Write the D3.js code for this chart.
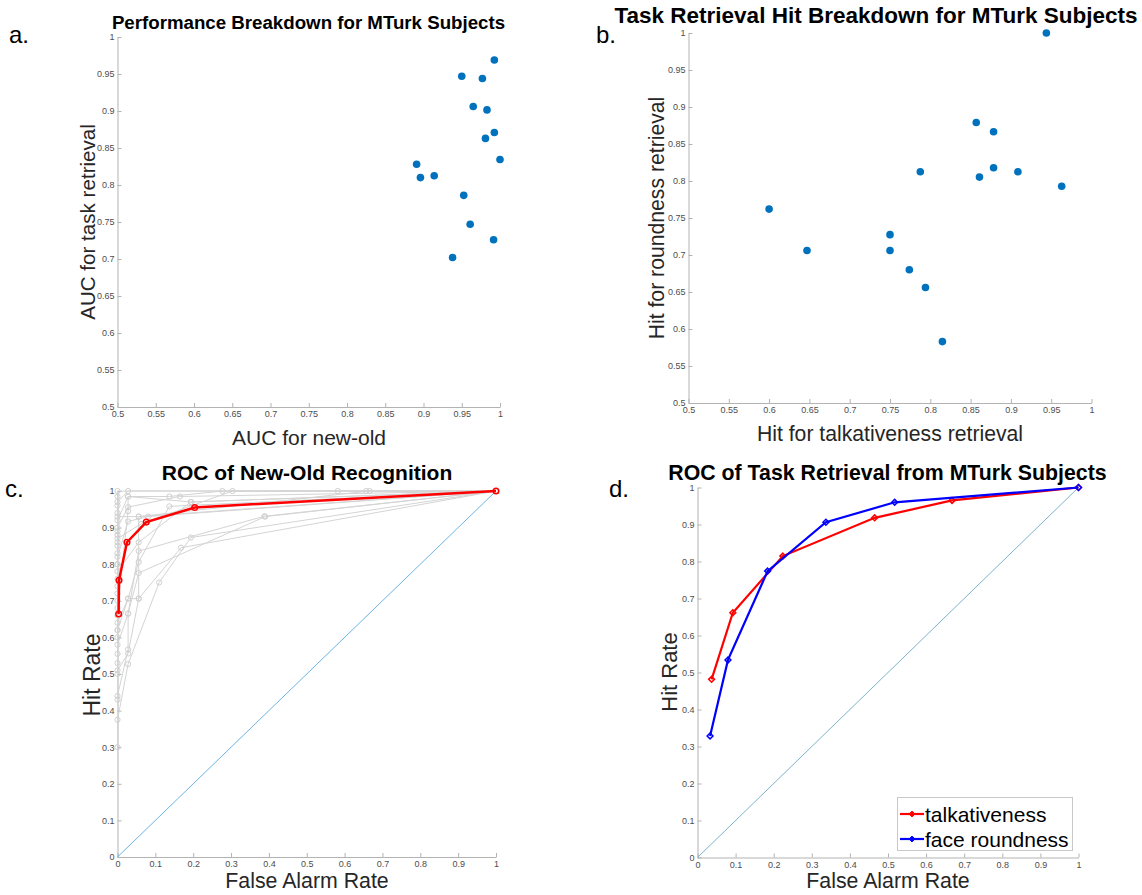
<!DOCTYPE html>
<html>
<head>
<meta charset="utf-8">
<script src="https://cdn.jsdelivr.net/npm/d3@7"></script>
<style>
  body { margin: 0; background: #fff; }
  svg { font-family: "Liberation Sans", Arial, sans-serif; }
  .tick text { fill: #4d4d4d; font-size: 9px; }
  .tick line, .domain { stroke: #b3b3b3; }
</style>
</head>
<body>
<div id="chart"></div>
<script>
// ---- data ----
// a. AUC per subject
var aucNewOld = [0.9926, 0.950, 0.977, 0.965, 0.983, 0.9926, 0.981, 1.000, 0.891, 0.896, 0.914, 0.9526, 0.961, 0.9916, 0.938];
var aucTask   = [0.969, 0.947, 0.944, 0.906, 0.9015, 0.871, 0.863, 0.8345, 0.828, 0.810, 0.8125, 0.786, 0.747, 0.726, 0.702];

// b. hit rate per subject
var hitTalk  = [0.944, 0.857, 0.8785, 0.7876, 0.8785, 0.861, 0.9087, 0.963, 0.600, 0.647, 0.750, 0.750, 0.774, 0.794, 0.815];
var hitRound = [1.000, 0.879, 0.8665, 0.8125, 0.818, 0.8053, 0.8125, 0.793, 0.762, 0.706, 0.7275, 0.706, 0.680, 0.656, 0.583];

// c. ROC new-old, per subject (gray) and mean (red)
var subjectRoc = [
  [[0, 0.30], [0, 0.375], [0.028, 0.527], [0.11, 0.75], [0.194, 0.873], [1, 1]],
  [[0, 0.43], [0, 0.51], [0.028, 0.556], [0.056, 0.706], [0.168, 0.845], [1, 1]],
  [[0, 0.44], [0.028, 0.567], [0.028, 0.665], [0.056, 0.776], [0.39, 0.93], [1, 1]],
  [[0, 0.555], [0, 0.62], [0.028, 0.706], [0.056, 0.806], [0.137, 0.958], [1, 1]],
  [[0, 0.53], [0, 0.58], [0.028, 0.665], [0.056, 0.836], [0.388, 0.931], [1, 1]],
  [[0, 0.60], [0, 0.70], [0, 0.78], [0.056, 0.86], [0.194, 0.97], [1, 1]],
  [[0, 0.66], [0, 0.74], [0, 0.82], [0.028, 0.917], [0.081, 0.93], [1, 1]],
  [[0, 0.72], [0, 0.80], [0, 0.87], [0.062, 0.91], [0.304, 1.0], [1, 1]],
  [[0, 0.76], [0, 0.85], [0, 0.90], [0.028, 0.956], [0.165, 0.985], [1, 1]],
  [[0, 0.80], [0, 0.88], [0, 0.93], [0.056, 0.93], [0.666, 1.0], [1, 1]],
  [[0, 0.83], [0, 0.92], [0.028, 0.985], [0.137, 0.985], [0.277, 1.0], [1, 1]],
  [[0, 0.86], [0, 0.94], [0, 0.97], [0.028, 1.0], [0.582, 1.0], [1, 1]],
  [[0, 0.89], [0, 0.96], [0, 0.985], [0, 1.0], [0.657, 1.0], [1, 1]],
  [[0, 0.62], [0, 0.68], [0.028, 0.945], [0.028, 0.985], [0.194, 0.97], [1, 1]],
  [[0, 0.50], [0, 0.64], [0.028, 0.706], [0.056, 0.706], [0.056, 0.93], [1, 1]]
];
var meanFA  = [0.003, 0.004, 0.025, 0.076, 0.204, 1];
var meanHit = [0.664, 0.756, 0.860, 0.915, 0.955, 1];

// d. ROC task retrieval
var talkFA   = [0.037, 0.0927, 0.224, 0.465, 0.668, 1];
var talkHit  = [0.4815, 0.6616, 0.8146, 0.918, 0.965, 1];
var roundFA  = [0.033, 0.080, 0.184, 0.337, 0.5175, 1];
var roundHit = [0.3285, 0.534, 0.774, 0.906, 0.960, 1];

// ticks
var ticksHalf = [0.5, 0.55, 0.6, 0.65, 0.7, 0.75, 0.8, 0.85, 0.9, 0.95, 1];
var ticksHalfLabels = ['0.5', '0.55', '0.6', '0.65', '0.7', '0.75', '0.8', '0.85', '0.9', '0.95', '1'];
var ticksUnit = [0, 0.1, 0.2, 0.3, 0.4, 0.5, 0.6, 0.7, 0.8, 0.9, 1];
var ticksUnitLabels = ['0', '0.1', '0.2', '0.3', '0.4', '0.5', '0.6', '0.7', '0.8', '0.9', '1'];

// ---- drawing ----
var svg = d3.select('#chart')
  .append('svg')
  .attr('width', 1142)
  .attr('height', 895);

function makePanel(box, ticks, labels) {
  var x = d3.scaleLinear().domain([ticks[0], ticks[ticks.length - 1]]).range([box.x0, box.x1]);
  var y = d3.scaleLinear().domain([ticks[0], ticks[ticks.length - 1]]).range([box.y1, box.y0]);

  svg.append('g')
    .attr('transform', 'translate(0,' + box.y1 + ')')
    .call(d3.axisBottom(x).tickValues(ticks).tickFormat(function(d, i) { return labels[i]; })
      .tickSizeInner(-4).tickSizeOuter(0).tickPadding(4));

  svg.append('g')
    .attr('transform', 'translate(' + box.x0 + ',0)')
    .call(d3.axisLeft(y).tickValues(ticks).tickFormat(function(d, i) { return labels[i]; })
      .tickSizeInner(-4).tickSizeOuter(0).tickPadding(3));

  svg.selectAll('.domain').attr('stroke', '#b3b3b3');
  return {x: x, y: y};
}

function addText(txt, x, y, size, opts) {
  opts = opts || {};
  var t = svg.append('text')
    .attr('x', x).attr('y', y)
    .attr('font-size', size)
    .attr('text-anchor', opts.anchor || 'middle')
    .attr('font-weight', opts.bold ? 'bold' : 'normal')
    .attr('fill', opts.fill || '#000')
    .text(txt);
  if (opts.rotate) t.attr('transform', 'rotate(-90,' + x + ',' + y + ')');
  return t;
}

// panel a
var pa = makePanel({x0: 117.5, x1: 500, y0: 37, y1: 407}, ticksHalf, ticksHalfLabels);
svg.append('g').selectAll('circle')
  .data(aucNewOld)
  .enter()
  .append('circle')
  .attr('cx', function(d) { return pa.x(d); })
  .attr('cy', function(d, i) { return pa.y(aucTask[i]); })
  .attr('r', 3.8)
  .attr('fill', '#0072BD');
addText('Performance Breakdown for MTurk Subjects', 308.5, 29, 18.7, {bold: true});
addText('AUC for new-old', 309, 445, 21, {fill: '#262626'});
addText('AUC for task retrieval', 95, 222, 20.6, {rotate: true, fill: '#262626'});
addText('a.', 9, 43, 24, {anchor: 'start'});

// panel b
var pb = makePanel({x0: 688.5, x1: 1091.5, y0: 33, y1: 403}, ticksHalf, ticksHalfLabels);
svg.append('g').selectAll('circle')
  .data(hitTalk)
  .enter()
  .append('circle')
  .attr('cx', function(d) { return pb.x(d); })
  .attr('cy', function(d, i) { return pb.y(hitRound[i]); })
  .attr('r', 3.8)
  .attr('fill', '#0072BD');
addText('Task Retrieval Hit Breakdown for MTurk Subjects', 876, 23, 22.5, {bold: true});
addText('Hit for talkativeness retrieval', 890, 441, 21.2, {fill: '#262626'});
addText('Hit for roundness retrieval', 664, 218, 21.2, {rotate: true, fill: '#262626'});
addText('b.', 596, 43, 24, {anchor: 'start'});

// panel c
var pc = makePanel({x0: 117.5, x1: 496, y0: 491, y1: 857}, ticksUnit, ticksUnitLabels);
var line = d3.line()
  .x(function(d) { return pc.x(d[0]); })
  .y(function(d) { return pc.y(d[1]); });

svg.append('path')
  .attr('d', line([[0, 0], [1, 1]]))
  .attr('stroke', '#6cb4e4').attr('stroke-width', 1).attr('fill', 'none');

var subj = svg.append('g').selectAll('g')
  .data(subjectRoc)
  .enter()
  .append('g');
subj.append('path')
  .attr('d', function(d) { return line(d); })
  .attr('stroke', '#d4d4d4').attr('stroke-width', 1).attr('fill', 'none');
subj.selectAll('circle')
  .data(function(d) { return d; })
  .enter()
  .append('circle')
  .attr('cx', function(d) { return pc.x(d[0]); })
  .attr('cy', function(d) { return pc.y(d[1]); })
  .attr('r', 2.6)
  .attr('fill', 'none')
  .attr('stroke', '#d0d0d0');

var meanPts = meanFA.map(function(d, i) { return [d, meanHit[i]]; });
svg.append('path')
  .attr('d', line(meanPts))
  .attr('stroke', '#ff0000').attr('stroke-width', 2.5).attr('fill', 'none');
svg.append('g').selectAll('circle')
  .data(meanPts)
  .enter()
  .append('circle')
  .attr('cx', function(d) { return pc.x(d[0]); })
  .attr('cy', function(d) { return pc.y(d[1]); })
  .attr('r', 2.8)
  .attr('fill', 'none')
  .attr('stroke', '#ff0000')
  .attr('stroke-width', 1.5);

addText('ROC of New-Old Recognition', 307, 480, 21, {bold: true});
addText('False Alarm Rate', 307, 888, 21.3, {fill: '#262626'});
addText('Hit Rate', 100, 675, 23, {rotate: true, fill: '#262626'});
addText('c.', 5, 497, 24, {anchor: 'start'});

// panel d
var pd = makePanel({x0: 697.5, x1: 1078.5, y0: 487.5, y1: 857.5}, ticksUnit, ticksUnitLabels);
var lineD = d3.line()
  .x(function(d) { return pd.x(d[0]); })
  .y(function(d) { return pd.y(d[1]); });

svg.append('path')
  .attr('d', lineD([[0, 0], [1, 1]]))
  .attr('stroke', '#7ab4cc').attr('stroke-width', 1).attr('fill', 'none');

var diamond = d3.symbol().type(d3.symbolDiamond2).size(22);
var seriesD = [
  {name: 'talkativeness', color: '#ff0000', fa: talkFA, hit: talkHit},
  {name: 'face roundness', color: '#0000ff', fa: roundFA, hit: roundHit}
];
seriesD.forEach(function(s) {
  var pts = s.fa.map(function(d, i) { return [d, s.hit[i]]; });
  svg.append('path')
    .attr('d', lineD(pts))
    .attr('stroke', s.color).attr('stroke-width', 2.2).attr('fill', 'none');
  svg.append('g').selectAll('path')
    .data(pts)
    .enter()
    .append('path')
    .attr('d', diamond)
    .attr('transform', function(d) { return 'translate(' + pd.x(d[0]) + ',' + pd.y(d[1]) + ')'; })
    .attr('fill', 'none')
    .attr('stroke', s.color)
    .attr('stroke-width', 1.5);
});

// legend
var lg = svg.append('g');
lg.append('rect')
  .attr('x', 897.5).attr('y', 797.5).attr('width', 175).attr('height', 53)
  .attr('fill', '#fff').attr('stroke', '#c8c8c8');
seriesD.forEach(function(s, i) {
  var yy = 814 + i * 25;
  lg.append('line')
    .attr('x1', 900).attr('x2', 924).attr('y1', yy).attr('y2', yy)
    .attr('stroke', s.color).attr('stroke-width', 2.2);
  lg.append('path')
    .attr('d', diamond)
    .attr('transform', 'translate(912,' + yy + ')')
    .attr('fill', s.color).attr('stroke', s.color);
  lg.append('text')
    .attr('x', 925).attr('y', yy + 8)
    .attr('font-size', 21)
    .text(s.name);
});

addText('ROC of Task Retrieval from MTurk Subjects', 887.5, 480, 21.3, {bold: true});
addText('False Alarm Rate', 888, 888, 21.3, {fill: '#262626'});
addText('Hit Rate', 677, 672, 22, {rotate: true, fill: '#262626'});
addText('d.', 609, 497, 24, {anchor: 'start'});
</script>
</body>
</html>
